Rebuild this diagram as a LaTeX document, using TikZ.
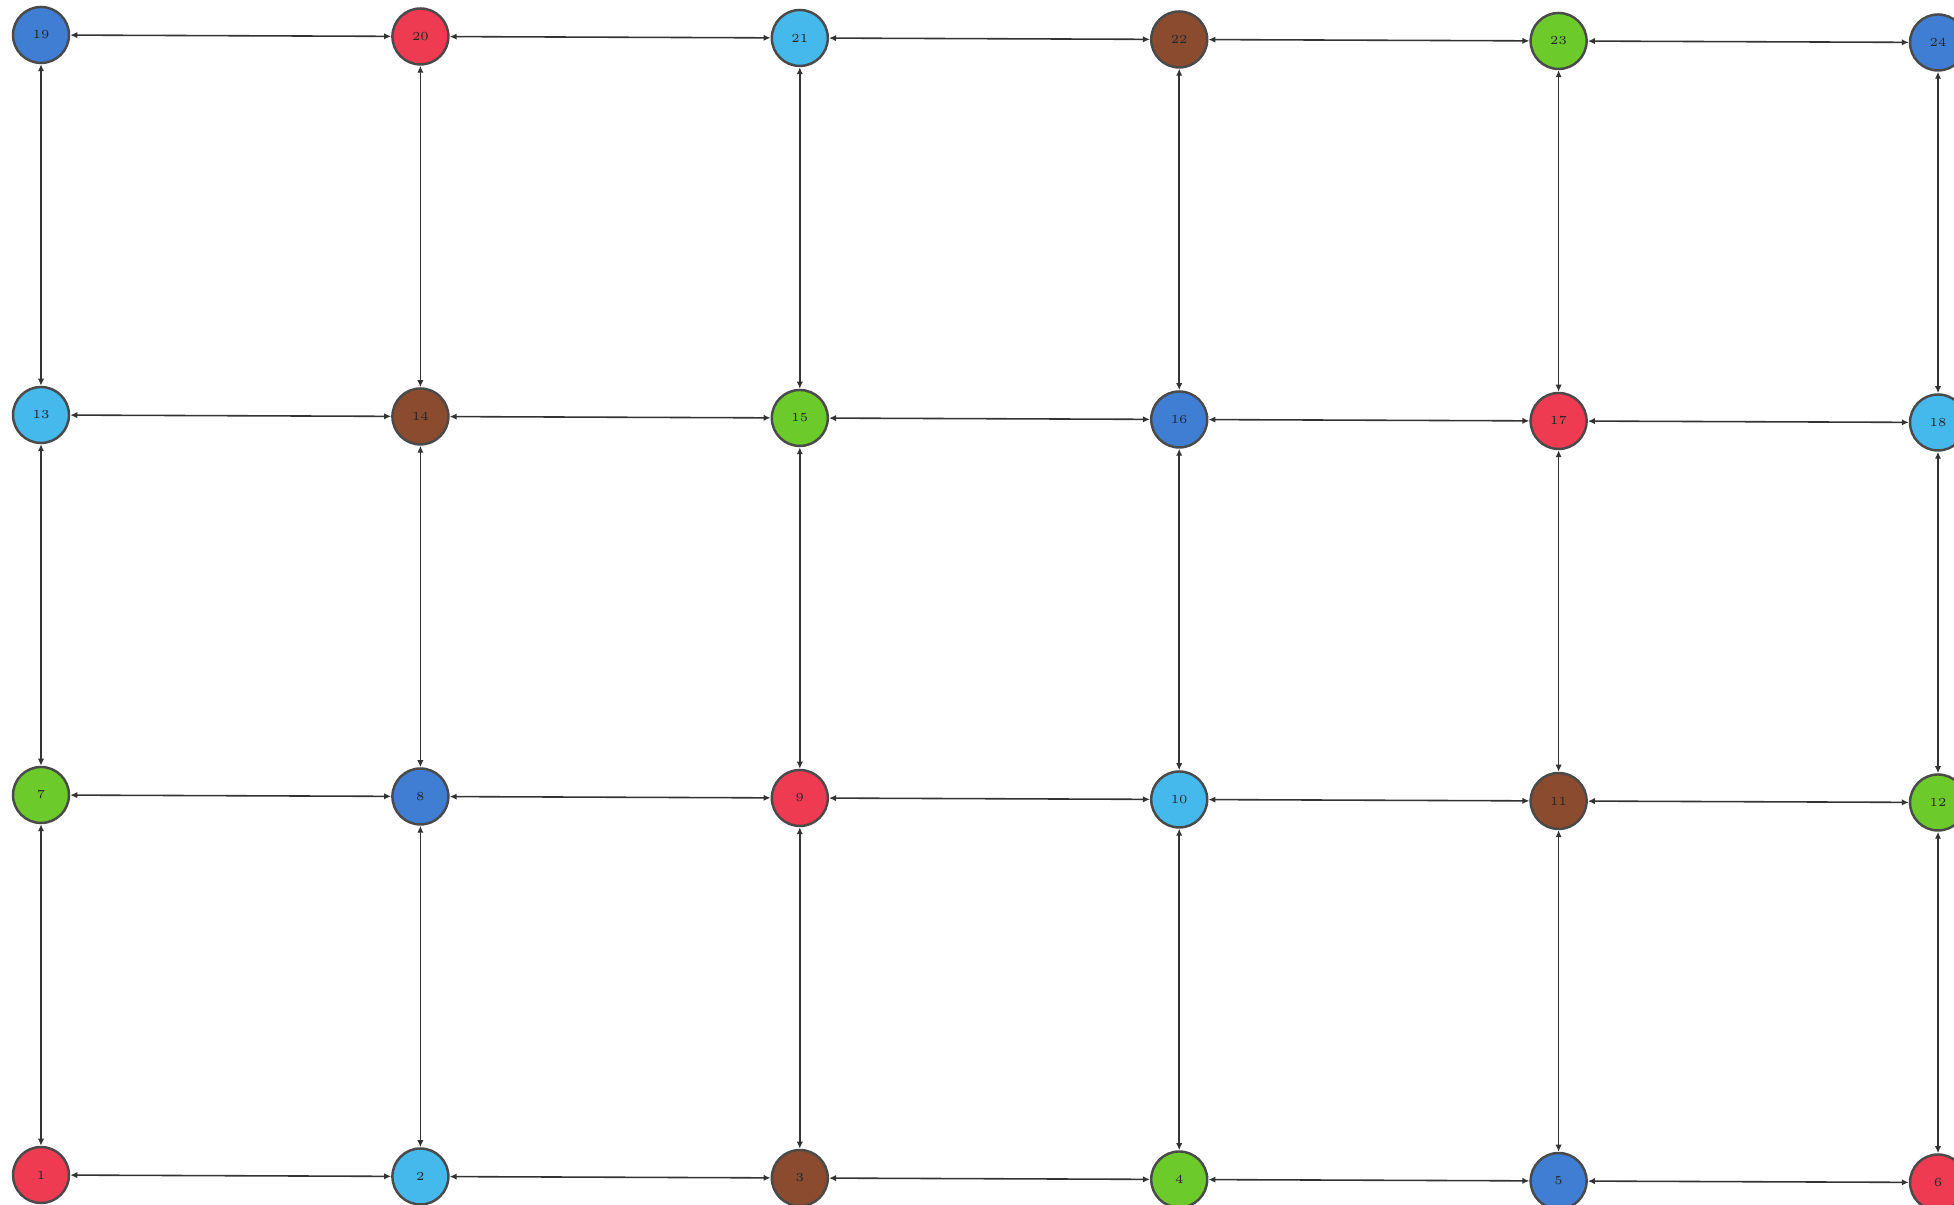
\documentclass[tikz,border=0pt]{standalone}
\usepackage{xcolor}
\definecolor{GridRed}{HTML}{EE3B52}
\definecolor{GridSky}{HTML}{45B8EC}
\definecolor{GridBrown}{HTML}{8A4B2E}
\definecolor{GridGreen}{HTML}{6CCB2A}
\definecolor{GridBlue}{HTML}{3F7ED3}
\definecolor{GridRim}{HTML}{4A4A4A}
\usetikzlibrary{arrows.meta}

\begin{document}
\begin{tikzpicture}[
  cell/.style={circle,draw=GridRim,line width=0.7pt,minimum size=5.6mm,inner sep=0pt,
    text=black!85,font=\fontsize{3.5}{4}\selectfont},
  link/.style={{Latex[length=2pt,width=1.8pt]}-{Latex[length=2pt,width=1.8pt]},
    line width=0.45pt,black!80}]
  \useasboundingbox (0,0) rectangle (19.54,12.05);
  \foreach \k/\c in {1/GridRed,2/GridSky,3/GridBrown,4/GridGreen,5/GridBlue,6/GridRed,
      7/GridGreen,8/GridBlue,9/GridRed,10/GridSky,11/GridBrown,12/GridGreen,
      13/GridSky,14/GridBrown,15/GridGreen,16/GridBlue,17/GridRed,18/GridSky,
      19/GridBlue,20/GridRed,21/GridSky,22/GridBrown,23/GridGreen,24/GridBlue}{
    \pgfmathtruncatemacro{\col}{mod(\k-1,6)}
    \pgfmathtruncatemacro{\row}{(\k-1)/6}
    \node[cell,fill=\c] (n\k) at ({0.41+3.794*\col},{0.30+3.8*\row-0.015*\col}) {\k};
  }
  % rows
  \foreach \r in {0,...,3}{
    \foreach \c in {1,...,5}{
      \pgfmathtruncatemacro{\a}{6*\r+\c}
      \pgfmathtruncatemacro{\b}{\a+1}
      \draw[link] (n\a) -- (n\b);
    }
  }
  % columns
  \foreach \a in {1,...,18}{
    \pgfmathtruncatemacro{\b}{\a+6}
    \draw[link] (n\a) -- (n\b);
  }
\end{tikzpicture}
\end{document}
